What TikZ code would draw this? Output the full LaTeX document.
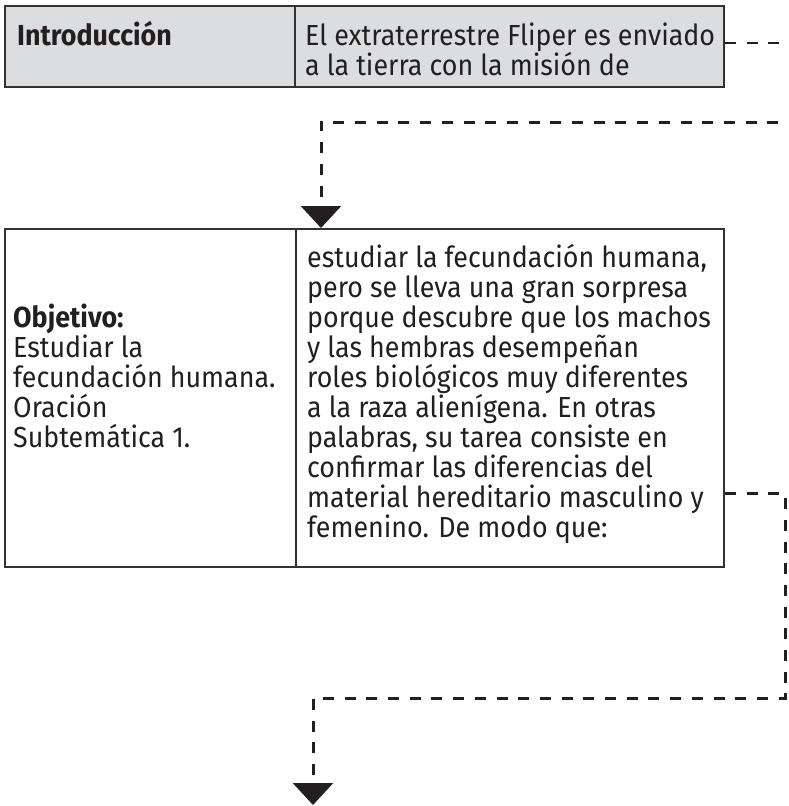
\documentclass[tikz,border=0pt]{standalone}
\usepackage{fontspec}
\setmainfont{Fira Sans}[FakeStretch=0.925]
\usetikzlibrary{arrows.meta}
\definecolor{ink}{HTML}{231F20}
\definecolor{boxgray}{HTML}{DCDDDF}
\newcommand\tlines[1]{\vtop{\baselineskip=30pt\lineskiplimit=-100pt\lineskip=0pt #1}}
\begin{document}
\begin{tikzpicture}[x=1pt,y=-1pt,
  box/.style={draw=ink!92, line width=2pt, rectangle, inner sep=0pt},
  divider/.style={draw=ink!92, line width=1.6pt},
  txt/.style={anchor=base west, inner sep=0pt, text=ink, font=\fontsize{29}{30}\selectfont},
  conn/.style={draw=ink, line width=3pt, dash pattern=on 11pt off 10.7pt},
  tip/.style={-{Triangle[width=40pt,length=22pt]}}]
\useasboundingbox (0,0) rectangle (788,806);
\clip (0,0) rectangle (788,806);
% top box
\node[box, fill=boxgray, minimum width=719pt, minimum height=81pt] (b1) at (364.5,46.5) {};
\coordinate (d1) at (295,0);
\draw[divider] (b1.north -| d1) -- (b1.south -| d1);
\node[txt] (t1) at (17,45) {\bfseries Introducción};
\node[txt] (t2) at (305,45) {\tlines{\hbox{El extraterrestre Fliper es enviado}\hbox{a la tierra con la misión de}}};
% second box
\node[box, minimum width=719pt, minimum height=338pt] (b2) at (364.5,398) {};
\coordinate (d2) at (296,0);
\draw[divider] (b2.north -| d2) -- (b2.south -| d2);
\node[txt] (t3) at (13,327) {\tlines{\hbox{\bfseries Objetivo:}\hbox{Estudiar la}\hbox{fecundación humana.}\hbox{Oración}\hbox{Subtemática 1.}}};
\node[txt] (t4) at (307,267) {\tlines{%
\hbox{estudiar la fecundación humana,}%
\hbox{pero se lleva una gran sorpresa}%
\hbox{porque descubre que los machos}%
\hbox{y las hembras desempeñan}%
\hbox{roles biológicos muy diferentes}%
\hbox{a la raza alienígena. En otras}%
\hbox{palabras, su tarea consiste en}%
\hbox{confirmar las diferencias del}%
\hbox{material hereditario masculino y}%
\hbox{femenino. De modo que:}}};
% connectors
\coordinate (c1end) at (800,43);
\draw[conn, line width=2.4pt] (b1.east |- c1end) -- (c1end);
\coordinate (c2start) at (800,122);
\coordinate (c2x) at (321,0);
\draw[conn,tip] (c2start) -| (b2.north -| c2x);
\coordinate (c3y) at (0,493);
\coordinate (c3r) at (785,698);
\coordinate (c3l) at (313,698);
\coordinate (end2) at (313,805);
\draw[conn,tip] (b2.east |- c3y) -| (c3r) -- (c3l) -- (end2);
\end{tikzpicture}
\end{document}
